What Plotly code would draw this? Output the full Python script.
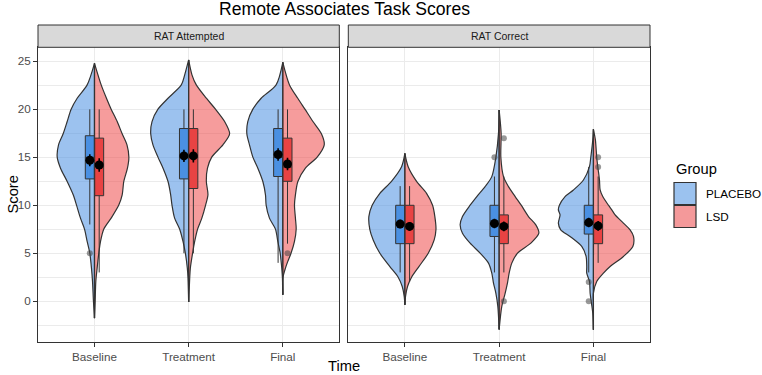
import plotly.graph_objects as go

FONT = "Liberation Sans, Arial, Helvetica, sans-serif"

# ---------------- data ----------------
times = ["Baseline", "Treatment", "Final"]
facets = ["RAT Attempted", "RAT Correct"]
groups = ["PLACEBO", "LSD"]
y_tick_values = [0, 5, 10, 15, 20, 25]

# violin half-width profiles (density, in category-width units) read at score levels
att_baseline_levels = [24.8, 22.55, 21.16, 20.02, 18.73, 17.45, 16.30, 15.02, 13.87, 12.48, 11.09, 10.02, 8.66, 7.52, 6.23, 5.02, 3.45, 2.06, -0.02, -1.76]
att_baseline_placebo = [0, .078, .184, .248, .29, .333, .382, .396, .361, .29, .226, .191, .149, .106, .078, .05, .032, .021, .011, 0]
att_baseline_lsd = [0, .071, .127, .177, .241, .294, .345, .365, .35, .311, .294, .258, .177, .099, .064, .046, .028, .014, .007, 0]

att_treatment_levels = [25.15, 23.6, 22.55, 21.16, 20.02, 18.73, 17.45, 16.30, 15.02, 13.87, 12.48, 11.09, 10.02, 8.66, 7.52, 6.23, 5.02, 3.45, 2.41, -0.09]
att_treatment_placebo = [0, .042, .078, .219, .326, .389, .403, .379, .326, .272, .219, .191, .177, .149, .096, .06, .035, .014, .007, 0]
att_treatment_lsd = [0, .035, .081, .188, .285, .382, .435, .364, .245, .2, .188, .205, .18, .14, .095, .064, .042, .018, .011, 0]

att_final_levels = [24.9, 22.55, 21.16, 20.02, 18.73, 17.45, 16.30, 15.02, 13.87, 12.48, 11.09, 10.02, 8.66, 7.52, 6.23, 5.02, 4.15, 3.45, 2.41, 0.67]
att_final_placebo = [0, .071, .23, .318, .372, .382, .354, .318, .265, .212, .184, .177, .142, .078, .053, .028, .018, .011, .004, 0]
att_final_lsd = [0, .071, .159, .235, .32, .41, .44, .365, .24, .16, .134, .124, .134, .142, .124, .088, .053, .028, 0, 0]

cor_baseline_levels = [15.41, 14.02, 12.5, 11.25, 10.0, 8.82, 7.5, 6.39, 5.0, 3.61, 2.5, 1.53, 0.49, -0.38]
cor_baseline_placebo = [0, .035, .142, .265, .347, .382, .372, .336, .265, .159, .071, .028, .007, 0]
cor_baseline_lsd = [0, .035, .124, .23, .294, .318, .33, .311, .248, .149, .071, .028, .007, 0]

cor_treatment_levels = [19.93, 17.5, 15.0, 12.99, 11.95, 10.91, 10.01, 8.83, 7.96, 7.09, 6.05, 5.01, 3.97, 2.93, 1.89, 0.85, -0.54, -2.94]
cor_treatment_placebo = [0, .007, .035, .078, .149, .237, .308, .389, .414, .389, .308, .202, .113, .078, .06, .035, .014, 0]
cor_treatment_lsd = [0, .021, .018, .046, .099, .17, .234, .311, .389, .421, .336, .195, .134, .106, .088, .064, .028, 0]

cor_final_levels = [17.92, 16.8, 15.0, 14.03, 12.64, 11.6, 10.91, 10.01, 9.52, 9.0, 8.14, 7.44, 6.75, 5.71, 4.67, 3.62, 2.93, 2.06, 0.85, -0.19, -1.24, -2.97]
cor_final_placebo = [0, .007, .028, .042, .106, .212, .301, .361, .372, .354, .372, .347, .248, .124, .078, .071, .071, .042, .035, .021, .007, 0]
cor_final_lsd = [0, .021, .035, .046, .064, .071, .099, .159, .195, .23, .318, .389, .425, .418, .318, .177, .106, .035, 0, 0, 0, 0]

# box-plot statistics (per time point)
att_placebo_q1 = [12.75, 12.75, 13.0]
att_placebo_median = [15.0, 15.0, 15.0]
att_placebo_q3 = [17.25, 18.0, 18.0]
att_placebo_lower = [8, 5, 4]
att_placebo_upper = [20, 20, 20]
att_placebo_mean = [14.7, 15.15, 15.3]
att_placebo_se = [0.62, 0.65, 0.65]
att_placebo_out_time = [0]
att_placebo_out_value = [5]

att_lsd_q1 = [11.0, 11.75, 12.5]
att_lsd_median = [14.0, 15.0, 14.0]
att_lsd_q3 = [17.0, 18.0, 17.0]
att_lsd_lower = [3, 5, 6]
att_lsd_upper = [20, 20, 20]
att_lsd_mean = [14.2, 15.15, 14.3]
att_lsd_se = [0.7, 0.7, 0.65]
att_lsd_out_time = [2]
att_lsd_out_value = [5]

cor_placebo_q1 = [6.0, 6.75, 7.0]
cor_placebo_median = [8.0, 8.0, 8.0]
cor_placebo_q3 = [10.0, 10.0, 10.0]
cor_placebo_lower = [3, 3, 3]
cor_placebo_upper = [12, 13, 14]
cor_placebo_mean = [8.05, 8.1, 8.2]
cor_placebo_se = [0.45, 0.5, 0.5]
cor_placebo_out_time = [1, 2, 2]
cor_placebo_out_value = [15, 2, 0]

cor_lsd_q1 = [6.0, 6.0, 6.0]
cor_lsd_median = [8.0, 8.0, 8.0]
cor_lsd_q3 = [10.0, 9.0, 9.0]
cor_lsd_lower = [2, 3, 4]
cor_lsd_upper = [12, 13, 13]
cor_lsd_mean = [7.8, 7.8, 7.85]
cor_lsd_se = [0.45, 0.5, 0.5]
cor_lsd_out_time = [1, 1, 2, 2]
cor_lsd_out_value = [17, 0, 15, 14]

# ---------------- styling ----------------
OUTLINE = "#333333"
VIOLIN_FILL = {"PLACEBO": "rgba(74,144,226,0.55)", "LSD": "rgba(238,75,75,0.55)"}
KEY_FILL = {"PLACEBO": "#9BC2EF", "LSD": "#F4999A"}
BOX_FILL = {"PLACEBO": "#4A90E2", "LSD": "#E84343"}
SIDE = {"PLACEBO": -1, "LSD": 1}
BOX_OFFSET = 0.05
BOX_WIDTH = 0.095
X_RANGE = [-0.6, 2.6]
Y_RANGE = [-4.25, 26.5]

panels = [
    dict(ax="x", ay="y", ox="x3", oy="y3",
         profiles=[(att_baseline_levels, att_baseline_placebo, att_baseline_lsd),
                   (att_treatment_levels, att_treatment_placebo, att_treatment_lsd),
                   (att_final_levels, att_final_placebo, att_final_lsd)],
         stats={"PLACEBO": (att_placebo_q1, att_placebo_median, att_placebo_q3, att_placebo_lower,
                            att_placebo_upper, att_placebo_mean, att_placebo_se,
                            att_placebo_out_time, att_placebo_out_value),
                "LSD": (att_lsd_q1, att_lsd_median, att_lsd_q3, att_lsd_lower,
                        att_lsd_upper, att_lsd_mean, att_lsd_se,
                        att_lsd_out_time, att_lsd_out_value)}),
    dict(ax="x2", ay="y2", ox="x4", oy="y4",
         profiles=[(cor_baseline_levels, cor_baseline_placebo, cor_baseline_lsd),
                   (cor_treatment_levels, cor_treatment_placebo, cor_treatment_lsd),
                   (cor_final_levels, cor_final_placebo, cor_final_lsd)],
         stats={"PLACEBO": (cor_placebo_q1, cor_placebo_median, cor_placebo_q3, cor_placebo_lower,
                            cor_placebo_upper, cor_placebo_mean, cor_placebo_se,
                            cor_placebo_out_time, cor_placebo_out_value),
                "LSD": (cor_lsd_q1, cor_lsd_median, cor_lsd_q3, cor_lsd_lower,
                        cor_lsd_upper, cor_lsd_mean, cor_lsd_se,
                        cor_lsd_out_time, cor_lsd_out_value)}),
]

fig = go.Figure()

for p in panels:
    # split violins (bottom layer)
    for i, (levels, pw, lw) in enumerate(p["profiles"]):
        for g, widths in (("PLACEBO", pw), ("LSD", lw)):
            s = SIDE[g]
            fig.add_trace(go.Scatter(
                x=[i, i], y=[levels[0], levels[-1]], mode="lines",
                line=dict(color=OUTLINE, width=1.2), xaxis=p["ax"], yaxis=p["ay"],
                showlegend=False, hoverinfo="skip"))
            fig.add_trace(go.Scatter(
                x=[i + s * w for w in widths], y=levels, mode="lines",
                line=dict(color=OUTLINE, width=1.2, shape="spline", smoothing=0.8),
                fill="tonextx", fillcolor=VIOLIN_FILL[g],
                xaxis=p["ax"], yaxis=p["ay"], showlegend=False, hoverinfo="skip"))
    # boxes, means and outliers on an overlaid subplot (drawn above violins)
    for g in groups:
        q1, med, q3, lo, hi, mean, se, ot, ov = p["stats"][g]
        xpos = [i + SIDE[g] * BOX_OFFSET for i in range(len(times))]
        fig.add_trace(go.Box(
            x=xpos, q1=q1, median=med, q3=q3, lowerfence=lo, upperfence=hi,
            width=BOX_WIDTH, whiskerwidth=0, fillcolor=BOX_FILL[g],
            line=dict(color=OUTLINE, width=1), boxpoints=False,
            xaxis=p["ox"], yaxis=p["oy"], showlegend=False, hoverinfo="skip"))
        fig.add_trace(go.Scatter(
            x=[t + SIDE[g] * BOX_OFFSET for t in ot], y=ov, mode="markers",
            marker=dict(color="rgba(70,70,70,0.55)", size=6),
            xaxis=p["ox"], yaxis=p["oy"], showlegend=False, hoverinfo="skip"))
        fig.add_trace(go.Scatter(
            x=xpos, y=mean, mode="markers",
            marker=dict(color="black", size=9),
            error_y=dict(type="data", array=se, color="black", thickness=1.6, width=0),
            xaxis=p["ox"], yaxis=p["oy"], showlegend=False, hoverinfo="skip"))

# ---------------- layout ----------------
L, R, T, B = 38, 112, 47, 33
W, H = 762, 375
PW = W - L - R
PH = H - T - B


def px_x(px):
    return (px - L) / PW


def px_y(py):
    return (H - B - py) / PH


dom1 = [0, px_x(339.3)]
dom2 = [px_x(348.3), 1]

axis_common = dict(showline=True, mirror=True, linecolor=OUTLINE, linewidth=1,
                   zeroline=False, gridcolor="#EBEBEB", gridwidth=1.1)
xcommon = dict(axis_common, range=X_RANGE, tickvals=list(range(len(times))), ticktext=times,
               ticks="outside", ticklen=4, tickcolor=OUTLINE,
               tickfont=dict(size=11.7, color="#4D4D4D", family=FONT))
ycommon = dict(axis_common, range=Y_RANGE, tickvals=y_tick_values,
               minor=dict(tickvals=[-2.5, 2.5, 7.5, 12.5, 17.5, 22.5], showgrid=True,
                          gridcolor="#EBEBEB", gridwidth=0.6, ticks=""))

overlay = dict(visible=False, showgrid=False, zeroline=False)

fig.update_layout(
    width=W, height=H,
    margin=dict(l=L, r=R, t=T, b=B),
    paper_bgcolor="white", plot_bgcolor="white",
    font=dict(family=FONT, color="black"),
    showlegend=False,
    xaxis=dict(xcommon, domain=dom1, anchor="y"),
    xaxis2=dict(xcommon, domain=dom2, anchor="y2"),
    yaxis=dict(ycommon, anchor="x", ticks="outside", ticklen=4, tickcolor=OUTLINE,
               tickfont=dict(size=11.7, color="#4D4D4D", family=FONT)),
    yaxis2=dict(ycommon, anchor="x2", showticklabels=False, ticks=""),
    xaxis3=dict(overlay, range=X_RANGE, overlaying="x", anchor="y3"),
    yaxis3=dict(overlay, range=Y_RANGE, overlaying="y", anchor="x3"),
    xaxis4=dict(overlay, range=X_RANGE, overlaying="x2", anchor="y4"),
    yaxis4=dict(overlay, range=Y_RANGE, overlaying="y2", anchor="x4"),
)

shapes = []
annotations = []
# facet strips
for dom, label in ((dom1, facets[0]), (dom2, facets[1])):
    shapes.append(dict(type="rect", xref="paper", yref="paper", x0=dom[0], x1=dom[1],
                       y0=px_y(47.3), y1=px_y(25), fillcolor="#D9D9D9",
                       line=dict(color=OUTLINE, width=1), layer="above"))
    annotations.append(dict(text=label, xref="paper", yref="paper", x=(dom[0] + dom[1]) / 2,
                            y=px_y(36), xanchor="center", yanchor="middle", showarrow=False,
                            font=dict(size=10.5, color="#1A1A1A", family=FONT)))

# title and axis titles
annotations.append(dict(text="Remote Associates Task Scores", xref="paper", yref="paper",
                        x=0.5, y=px_y(9.5), xanchor="center", yanchor="middle", showarrow=False,
                        font=dict(size=17.6, color="black", family=FONT)))
annotations.append(dict(text="Time", xref="paper", yref="paper", x=0.5, y=px_y(366),
                        xanchor="center", yanchor="middle", showarrow=False,
                        font=dict(size=14.7, color="black", family=FONT)))
annotations.append(dict(text="Score", xref="paper", yref="paper", x=px_x(12), y=0.5,
                        xanchor="center", yanchor="middle", textangle=-90, showarrow=False,
                        font=dict(size=14.7, color="black", family=FONT)))

# legend
annotations.append(dict(text="Group", xref="paper", yref="paper", x=px_x(673.5), y=px_y(169),
                        xanchor="left", yanchor="middle", showarrow=False,
                        font=dict(size=14.7, color="black", family=FONT)))
key_tops = [182.5, 205.5]
for g, top in zip(groups, key_tops):
    shapes.append(dict(type="rect", xref="paper", yref="paper", x0=px_x(674), x1=px_x(696),
                       y0=px_y(top + 22), y1=px_y(top), fillcolor=KEY_FILL[g],
                       line=dict(color=OUTLINE, width=1.2)))
    annotations.append(dict(text=g, xref="paper", yref="paper", x=px_x(704.5), y=px_y(top + 11),
                            xanchor="left", yanchor="middle", showarrow=False,
                            font=dict(size=11.7, color="black", family=FONT)))

fig.update_layout(shapes=shapes, annotations=annotations)

fig.write_html("out.html", config={"displayModeBar": False},
               post_script="document.body.style.margin='0';document.body.style.overflow='hidden';")
